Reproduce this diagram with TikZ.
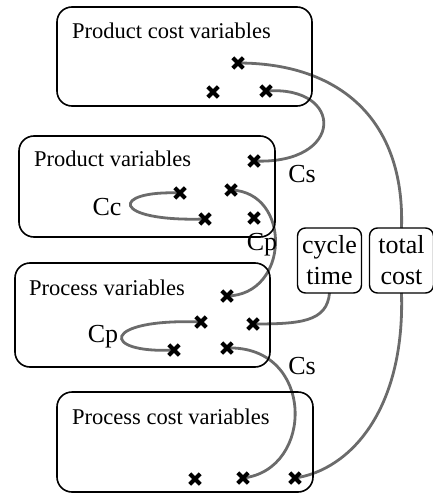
\documentclass[tikz,border=0pt]{standalone}
\usepackage{fontspec}
\setmainfont{Liberation Serif}
\usetikzlibrary{shapes.misc,backgrounds}
\begin{document}
\begin{tikzpicture}[x=1pt,y=-1pt,
  bigbox/.style={draw, line width=1.6pt, rounded corners=15pt, inner sep=0pt, outer sep=0pt},
  smallbox/.style={draw, line width=1.4pt, rounded corners=8pt, inner sep=0pt, outer sep=0pt,
     minimum width=64pt, minimum height=65pt, align=center, font=\fontsize{26}{31}\selectfont},
  title/.style={anchor=west, inner sep=0pt, font=\fontsize{22.5}{26}\selectfont},
  lbl/.style={inner sep=0pt, font=\fontsize{26}{30}\selectfont},
  xm/.style={cross out, draw, line width=4.2pt, minimum size=10.5pt, inner sep=0pt, outer sep=0pt},
  conn/.style={draw=black!58, line width=2.8pt}]
\useasboundingbox (0,0) rectangle (433,495);
% containers
\node[bigbox, minimum width=255pt, minimum height=99pt] (b1) at (184.5,56.5) {};
\node[bigbox, minimum width=256pt, minimum height=101pt] (b2) at (147,186.5) {};
\node[bigbox, minimum width=255pt, minimum height=104pt] (b3) at (142.5,315) {};
\node[bigbox, minimum width=256pt, minimum height=100pt] (b4) at (185,442) {};
\node[title] (t1) at (72,31) {Product cost variables};
\node[title] (t2) at (34,159) {Product variables};
\node[title] (t3) at (29,288) {Process variables};
\node[title] (t4) at (72,417) {Process cost variables};
% small boxes
\node[smallbox] (cycle) at (329.5,260.5) {cycle\\time};
\node[smallbox] (total) at (401.5,260.5) {total\\cost};
% labels
\node[lbl] (cs1) at (302,174) {Cs};
\node[lbl] (cc) at (107,207) {Cc};
\node[lbl] (cp1) at (262,245) {Cp};
\node[lbl] (cp2) at (103,337) {Cp};
\node[lbl] (cs2) at (302,366) {Cs};
% crosses
\node[xm] (p1) at (238,63) {};
\node[xm] (p2) at (213,92) {};
\node[xm] (p3) at (266,91) {};
\node[xm] (p4) at (254,161) {};
\node[xm] (p5) at (180,193) {};
\node[xm] (p6) at (231,190) {};
\node[xm] (p7) at (205,219) {};
\node[xm] (p8) at (254,218) {};
\node[xm] (q1) at (227,296) {};
\node[xm] (q2) at (201,322) {};
\node[xm] (q3) at (253,324) {};
\node[xm] (q4) at (174,350) {};
\node[xm] (q5) at (227,348) {};
\node[xm] (r1) at (195,479) {};
\node[xm] (r2) at (243,478) {};
\node[xm] (r3) at (295,478) {};
% connectors
\begin{scope}[on background layer]
\path[conn] (p1.center) .. controls (340,63) and (405,120) .. (total.north);
\path[conn] (p3.center) .. controls (345,85) and (345,165) .. (p4.center);
\path[conn] (p5.center) .. controls (110,190) and (110,222) .. (p7.center);
\path[conn] (p6.center) .. controls (292,192) and (290,295) .. (q1.center);
\path[conn] (q2.center) .. controls (100,318) and (100,354) .. (q4.center);
\path[conn] (cycle.south) .. controls (327,322) and (300,324) .. (q3.center);
\path[conn] (q5.center) .. controls (315,345) and (315,470) .. (r2.center);
\path[conn] (total.south) .. controls (405,410) and (350,470) .. (r3.center);
\end{scope}
\end{tikzpicture}
\end{document}
